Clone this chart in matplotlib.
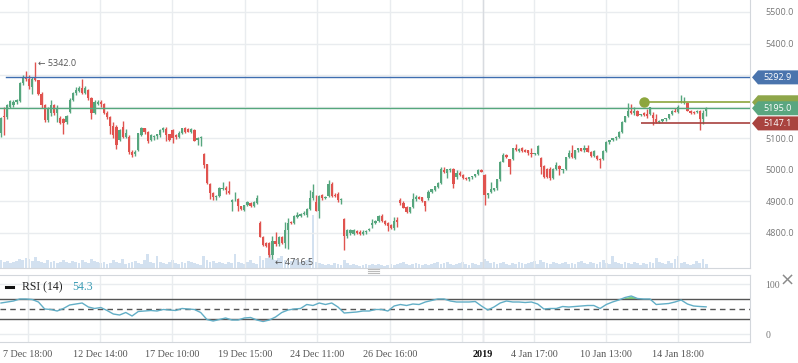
import numpy as np
import matplotlib.pyplot as plt
from matplotlib.patches import Polygon
from matplotlib.lines import Line2D
from matplotlib.transforms import blended_transform_factory

# ---- candle data (one candle per bar, in order) ----
opens = [5116, 5170, 5166, 5200, 5205, 5214, 5219, 5274, 5293, 5287, 5262, 5292, 5284, 5240, 5205, 5158, 5180, 5205, 5180, 5163,
         5160, 5150, 5184, 5221, 5242, 5250, 5258, 5244, 5252, 5227, 5180, 5210, 5216, 5208, 5180, 5168, 5140, 5135, 5094, 5135,
         5104, 5105, 5058, 5050, 5063, 5110, 5132, 5120, 5095, 5105, 5106, 5110, 5125, 5130, 5112, 5125, 5110, 5104, 5118, 5132,
         5129, 5120, 5126, 5094, 5100, 5050, 5017, 4955, 4928, 4913, 4917, 4938, 4944, 4934, 4898, 4903, 4907, 4884, 4874, 4888,
         4896, 4884, 4896, 4831, 4788, 4768, 4767, 4730, 4773, 4764, 4788, 4767, 4809, 4834, 4831, 4852, 4855, 4860, 4856, 4875,
         4910, 4899, 4871, 4920, 4912, 4917, 4955, 4920, 4923, 4904, 4844, 4790, 4800, 4797, 4806, 4804, 4797, 4802, 4808, 4826,
         4833, 4839, 4854, 4839, 4833, 4825, 4815, 4841, 4904, 4896, 4881, 4865, 4881, 4907, 4915, 4913, 4900, 4910, 4931, 4936,
         4947, 4959, 5000, 4991, 4999, 5002, 4976, 4991, 4984, 4974, 4970, 4976, 4980, 4987, 4999, 4984, 4921, 4931, 4936, 4941,
         4970, 5026, 5048, 5033, 5033, 5068, 5060, 5068, 5063, 5062, 5053, 5050, 5050, 5036, 5012, 5004, 5004, 4973, 5004, 5012,
         4998, 5002, 5040, 5054, 5036, 5062, 5068, 5062, 5068, 5057, 5044, 5044, 5034, 5033, 5061, 5089, 5094, 5100, 5104, 5121,
         5153, 5171, 5187, 5180, 5187, 5174, 5179, 5178, 5177, 5174, 5160, 5151, 5156, 5160, 5163, 5177, 5187, 5184, 5214, 5214,
         5213, 5187, 5183, 5184, 5187, 5160, 5186]
highs = [5168, 5200, 5210, 5222, 5220, 5224, 5278, 5300, 5312, 5300, 5295, 5342, 5286, 5245, 5210, 5200, 5220, 5210, 5205, 5170,
         5165, 5175, 5228, 5246, 5262, 5265, 5288, 5264, 5256, 5230, 5222, 5222, 5222, 5212, 5186, 5172, 5150, 5143, 5130, 5155,
         5128, 5110, 5062, 5062, 5118, 5135, 5134, 5122, 5112, 5110, 5115, 5128, 5135, 5136, 5115, 5130, 5115, 5122, 5134, 5136,
         5134, 5134, 5130, 5105, 5106, 5052, 5020, 4958, 4930, 4920, 4945, 4962, 4950, 4966, 4908, 4931, 4910, 4886, 4890, 4900,
         4898, 4900, 4920, 4838, 4790, 4772, 4770, 4791, 4804, 4790, 4790, 4836, 4846, 4838, 4856, 4865, 4862, 4868, 4880, 4936,
         4955, 4920, 4920, 4925, 4918, 4968, 4963, 4926, 4929, 4910, 4846, 4812, 4812, 4812, 4810, 4808, 4808, 4810, 4815, 4843,
         4842, 4856, 4860, 4842, 4835, 4828, 4852, 4852, 4910, 4900, 4884, 4882, 4928, 4920, 4918, 4915, 4902, 4935, 4940, 4950,
         4960, 5010, 5010, 5003, 5006, 5005, 4999, 4995, 4986, 4976, 4978, 4982, 4988, 5002, 5002, 4988, 4928, 4960, 4944, 4972,
         5028, 5052, 5050, 5034, 5070, 5082, 5068, 5073, 5066, 5064, 5068, 5054, 5078, 5040, 5014, 5006, 5010, 5005, 5026, 5016,
         5002, 5042, 5062, 5078, 5064, 5070, 5070, 5078, 5078, 5060, 5062, 5047, 5036, 5062, 5090, 5096, 5102, 5106, 5122, 5154,
         5172, 5211, 5209, 5198, 5190, 5178, 5182, 5192, 5200, 5184, 5177, 5158, 5162, 5165, 5178, 5190, 5195, 5205, 5237, 5232,
         5215, 5190, 5186, 5190, 5190, 5190, 5198]
lows = [5104, 5110, 5160, 5196, 5200, 5210, 5215, 5270, 5280, 5255, 5240, 5280, 5236, 5196, 5150, 5152, 5170, 5175, 5150, 5145,
        5115, 5145, 5180, 5218, 5238, 5245, 5240, 5240, 5222, 5160, 5176, 5205, 5200, 5176, 5160, 5115, 5100, 5065, 5090, 5100,
        5100, 5050, 5040, 5045, 5060, 5108, 5115, 5085, 5090, 5096, 5098, 5105, 5120, 5090, 5092, 5085, 5098, 5100, 5115, 5118,
        5119, 5118, 5090, 5079, 5075, 5005, 4955, 4907, 4905, 4905, 4915, 4935, 4925, 4925, 4868, 4900, 4868, 4874, 4870, 4885,
        4882, 4882, 4893, 4786, 4760, 4756, 4725, 4716.5, 4760, 4760, 4766, 4752, 4748, 4828, 4828, 4848, 4850, 4856, 4852, 4872,
        4905, 4868, 4846, 4906, 4908, 4915, 4915, 4914, 4898, 4892, 4746, 4783, 4795, 4793, 4798, 4795, 4793, 4798, 4805, 4815,
        4828, 4836, 4836, 4826, 4805, 4812, 4810, 4818, 4888, 4878, 4862, 4862, 4878, 4900, 4908, 4898, 4868, 4905, 4928, 4934,
        4944, 4956, 4990, 4975, 4994, 4941, 4972, 4982, 4972, 4968, 4966, 4972, 4976, 4984, 4993, 4889, 4912, 4928, 4932, 4936,
        4966, 5024, 5036, 4986, 5030, 5060, 5056, 5057, 5056, 5046, 5042, 5046, 5048, 4988, 4975, 4974, 4968, 4970, 5000, 4984,
        4990, 5000, 5038, 5036, 5034, 5058, 5060, 5058, 5055, 5042, 5042, 5030, 5006, 5030, 5058, 5082, 5090, 5096, 5100, 5118,
        5150, 5168, 5178, 5174, 5170, 5170, 5172, 5163, 5174, 5142, 5148, 5148, 5152, 5156, 5160, 5174, 5182, 5180, 5212, 5210,
        5185, 5178, 5176, 5180, 5126, 5145, 5170]
closes = [5163, 5166, 5205, 5218, 5215, 5220, 5274, 5293, 5287, 5266, 5288, 5284, 5240, 5205, 5158, 5196, 5205, 5180, 5195, 5148,
          5147, 5172, 5221, 5242, 5252, 5258, 5244, 5258, 5227, 5180, 5215, 5215, 5208, 5180, 5168, 5140, 5110, 5079, 5126, 5105,
          5118, 5058, 5047, 5058, 5116, 5132, 5120, 5090, 5110, 5107, 5112, 5126, 5131, 5110, 5096, 5100, 5104, 5118, 5131, 5120,
          5120, 5130, 5092, 5100, 5102, 5015, 4959, 4928, 4913, 4917, 4941, 4944, 4936, 4928, 4904, 4906, 4884, 4876, 4888, 4899,
          4884, 4899, 4910, 4788, 4762, 4760, 4730, 4773, 4764, 4788, 4768, 4809, 4830, 4832, 4854, 4856, 4859, 4864, 4875, 4910,
          4931, 4871, 4917, 4910, 4915, 4955, 4917, 4918, 4905, 4906, 4790, 4808, 4809, 4808, 4799, 4797, 4804, 4807, 4812, 4833,
          4839, 4854, 4839, 4829, 4822, 4815, 4839, 4836, 4896, 4880, 4865, 4881, 4907, 4915, 4909, 4900, 4885, 4931, 4938, 4948,
          4959, 5002, 4993, 5002, 5004, 4955, 4991, 4984, 4974, 4970, 4976, 4980, 4986, 4999, 4994, 4920, 4926, 4938, 4941, 4970,
          5026, 5048, 5040, 5008, 5068, 5063, 5066, 5060, 5058, 5052, 5050, 5052, 5075, 5010, 4976, 4978, 4973, 5004, 5015, 5002,
          5002, 5040, 5054, 5040, 5062, 5068, 5061, 5068, 5057, 5044, 5060, 5034, 5033, 5061, 5089, 5094, 5100, 5104, 5120, 5153,
          5171, 5187, 5180, 5187, 5171, 5177, 5174, 5172, 5198, 5163, 5150, 5156, 5160, 5163, 5177, 5187, 5184, 5200, 5216, 5215,
          5187, 5180, 5180, 5187, 5160, 5181, 5195]
volume = [8, 6, 7, 5, 6, 7, 9, 8, 10, 9, 7,
          11, 7, 6, 5, 8, 6, 7, 5, 6, 8,
          6, 5, 7, 6, 5, 8, 6, 5, 9, 7,
          6, 5, 6, 4, 5, 8, 6, 5, 9, 4,
          5, 6, 7, 5, 4, 8, 14, 6, 5, 12,
          6, 5, 4, 6, 8, 5, 4, 6, 5, 7,
          6, 5, 4, 3, 12, 8, 6, 7, 5, 6,
          5, 4, 6, 5, 14, 6, 5, 4, 6, 8,
          5, 4, 12, 8, 10, 14, 9, 8, 10, 12,
          8, 6, 7, 9, 8, 6, 7, 8, 10, 53,
          6, 5, 4, 3, 4, 3, 5, 4, 3, 8,
          5, 3, 4, 3, 2, 3, 4, 3, 4, 3,
          4, 3, 2, 3, 4, 3, 4, 5, 6, 4,
          3, 4, 5, 4, 3, 4, 3, 4, 5, 6,
          4, 5, 6, 4, 3, 4, 5, 6, 4, 3,
          5, 4, 3, 6, 9, 7, 5, 6, 4, 5,
          6, 4, 3, 5, 4, 6, 5, 4, 5, 6,
          7, 4, 8, 6, 5, 4, 6, 5, 4, 5,
          6, 4, 5, 4, 6, 7, 5, 4, 6, 5,
          4, 6, 8, 5, 4, 12, 6, 5, 4, 6,
          5, 4, 6, 5, 3, 5, 4, 6, 5, 10,
          6, 5, 4, 7, 5, 9, 12, 5, 6, 4,
          3, 4, 7, 5, 9, 4]
# RSI(14), read every second candle
rsi = [62, 64, 66, 70, 70, 69, 64, 50, 49, 46, 51, 58, 60, 62, 54, 51, 53, 47, 40, 38,
       43, 36, 45, 46, 47, 46, 49, 48, 47, 51, 50, 49, 43, 29, 26, 29, 32, 28, 28, 32,
       33, 28, 25, 28, 34, 43, 48, 50, 51, 59, 57, 62, 59, 62, 54, 42, 43, 44, 46, 46,
       49, 49, 46, 56, 59, 57, 60, 59, 64, 67, 70, 70, 66, 64, 64, 64, 65, 56, 48, 54,
       62, 66, 64, 64, 63, 64, 60, 50, 51, 51, 55, 54, 55, 56, 57, 57, 51, 59, 64, 68,
       73, 76, 71, 70, 70, 59, 60, 61, 64, 68, 60, 56, 55, 54.3]

tick_labels = ['7 Dec 18:00', '12 Dec 14:00', '17 Dec 10:00', '19 Dec 15:00', '24 Dec 11:00',
               '26 Dec 16:00', '', '4 Jan 17:00', '10 Jan 13:00', '14 Jan 18:00']
tick_pos = [8.65, 31.7, 54.8, 78.2, 101.3, 124.7, 147.8, 170.8, 193.9, 217.0]
year_label, year_pos = '2019', 154.5

price_ticks = [4800, 4900, 5000, 5100, 5200, 5300, 5400, 5500]
hidden_ticks = [5200, 5300]  # covered by the price tags

resistance = 5292.9
last_price = 5195.0
support = 5147.1
signal_level = 5214.0
signal_start = 206
support_start = 205

GREEN = '#56a67e'
RED = '#e0534f'
GRID = '#e9ecef'
SPINE = '#d3d7dc'
SANS = ['Open Sans', 'DejaVu Sans']

W, H = 798, 363
fig = plt.figure(figsize=(W / 100, H / 100), dpi=100)


def box(x0, y0, x1, y1):
    return [x0 / W, 1 - y1 / H, (x1 - x0) / W, (y1 - y0) / H]


axv = fig.add_axes(box(0, 0, 750, 268))
ax = fig.add_axes(box(0, 0, 750, 268), sharex=axv)
axr = fig.add_axes(box(0, 275, 750, 342), sharex=axv)
ax.patch.set_alpha(0)

o, h, l, c = map(np.array, (opens, highs, lows, closes))
x = np.arange(len(c))
xmin, xmax = -0.32, 240.06
ymin, ymax = 4689, 5538

# volume
axv.bar(x, volume, width=0.9, color='#d3e1f0', linewidth=0)
axv.set_ylim(0, 268)
axv.set_xlim(xmin, xmax)
axv.axis('off')

# candles
cols = np.where(c >= o, GREEN, RED)
body = np.abs(c - o)
bh = np.maximum(body, 3)
bottom = np.minimum(o, c) - (bh - body) / 2
ax.vlines(x, l, h, colors=cols, lw=1, zorder=3)
ax.bar(x, bh, width=0.72, bottom=bottom, color=cols, linewidth=0, zorder=4)
ax.set_ylim(ymin, ymax)
ax.set_xlim(xmin, xmax)

# price levels
ax.axhline(resistance, xmin=6 / 750, color='#3f6eb0', lw=1, zorder=5)
ax.axhline(last_price, color='#55a77c', lw=1, zorder=5)
ax.hlines(signal_level, signal_start, xmax, color='#8da63d', lw=1.2, zorder=5)
ax.plot([signal_start], [signal_level], 'o', color='#8da63d', ms=6.5, zorder=6)
ax.hlines(support, support_start, xmax, color='#a8413e', lw=1.2, zorder=5)

# high / low notes
imax, imin = int(np.argmax(h)), int(np.argmin(l))
ax.annotate('\u2190 %.1f' % h[imax], xy=(imax, h[imax]), xytext=(2, -1), textcoords='offset points',
            ha='left', va='center', fontsize=6.5, color='#555555', family=SANS, zorder=7)
ax.annotate('\u2190 %.1f' % l[imin], xy=(imin, l[imin]), xytext=(2, -2), textcoords='offset points',
            ha='left', va='center', fontsize=6.5, color='#555555', family=SANS, zorder=7)

# price tags on the right
tr = blended_transform_factory(ax.transAxes, ax.transData)
ppx = (ymax - ymin) / 268


def tag(value, color, label):
    hh = 7 * ppx
    tip, left, right = 752 / 750, 758 / 750, 798 / 750
    ax.add_patch(Polygon([(tip, value), (left, value + hh), (right, value + hh),
                          (right, value - hh), (left, value - hh)],
                         closed=True, transform=tr, facecolor=color, edgecolor='none',
                         clip_on=False, zorder=8))
    if label:
        ax.text(778 / 750, value, label, transform=tr, ha='center', va='center',
                color='white', fontsize=6.5, family=SANS, clip_on=False, zorder=9)


tag(signal_level, '#8ea64a', '')
tag(resistance, '#4a74ad', '%.1f' % resistance)
tag(last_price, '#5aa680', '%.1f' % last_price)
tag(support, '#a9433f', '%.1f' % support)

# main axes styling
ax.yaxis.tick_right()
ax.set_yticks(price_ticks)
ax.set_yticklabels(['' if v in hidden_ticks else '%.1f' % v for v in price_ticks])
ax.tick_params(axis='y', length=0, pad=11, labelsize=6.5, labelcolor='#777777')
for lab in ax.get_yticklabels():
    lab.set_family(SANS)
ax.tick_params(axis='x', length=0, labelbottom=False)
for s in ('top', 'left'):
    ax.spines[s].set_visible(False)
for s in ('right', 'bottom'):
    ax.spines[s].set_color(SPINE)
ax.grid(True, color=GRID, lw=1, zorder=0)
ax.set_axisbelow(True)

# RSI panel
rx = x[::2]
rv = np.array(rsi)
axr.set_ylim(-16, 118)
axr.set_xlim(xmin, xmax)
axr.fill_between(rx, rv, 30, where=rv < 30, interpolate=True, color='#f28b82', lw=0, zorder=2)
axr.fill_between(rx, rv, 70, where=rv > 70, interpolate=True, color='#7fd67f', lw=0, zorder=2)
axr.axhline(70, color='#555555', lw=1, zorder=3)
axr.axhline(30, color='#555555', lw=1, zorder=3)
axr.axhline(50, color='#555555', lw=1, ls=(0, (4, 3)), zorder=3)
axr.plot(rx, rv, color='#62aec6', lw=1, zorder=4)
axr.yaxis.tick_right()
axr.set_yticks([0, 100])
axr.set_yticklabels(['0', '100'])
axr.tick_params(axis='y', length=0, pad=11, labelsize=7, labelcolor='#777777')
for lab in axr.get_yticklabels():
    lab.set_family('Liberation Serif')
axr.grid(True, color=GRID, lw=1, zorder=0)
axr.spines['left'].set_visible(False)
for s in ('top', 'bottom', 'right'):
    axr.spines[s].set_color(SPINE)

axr.set_xticks(tick_pos + [year_pos])
axr.set_xticklabels(tick_labels + [year_label])
axr.tick_params(axis='x', length=0, pad=6, labelsize=7.3, labelcolor='#555555')
for lab in axr.get_xticklabels():
    lab.set_family('Liberation Serif')
axr.get_xticklabels()[-1].set_color('#111111')
axr.get_xticklabels()[-1].set_fontweight('bold')
for a in (ax, axr):
    a.axvline(year_pos, color='#d8dbe0', lw=1, zorder=1)

# RSI title
fig.add_artist(Line2D([6 / W, 13 / W], [1 - 287 / H] * 2, lw=2.2, color='#111111'))
fig.text(22 / W, 1 - 287 / H, 'RSI (14)', family='Liberation Serif', fontsize=8.5,
         color='#222222', va='center')
fig.text(72 / W, 1 - 287 / H, '%.1f' % rv[-1], family='Liberation Serif', fontsize=8.5,
         color='#3a9bb4', va='center')

# splitter and close icon
for yy in (269.3, 271, 272.7):
    fig.add_artist(Line2D([368 / W, 379 / W], [1 - yy / H] * 2, lw=0.8, color='#bbbbbb'))
fig.text(787 / W, 1 - 281 / H, '\u00d7', fontsize=13, color='#8a8a8a', ha='center', va='center')

fig.savefig('out.png', dpi=100)
